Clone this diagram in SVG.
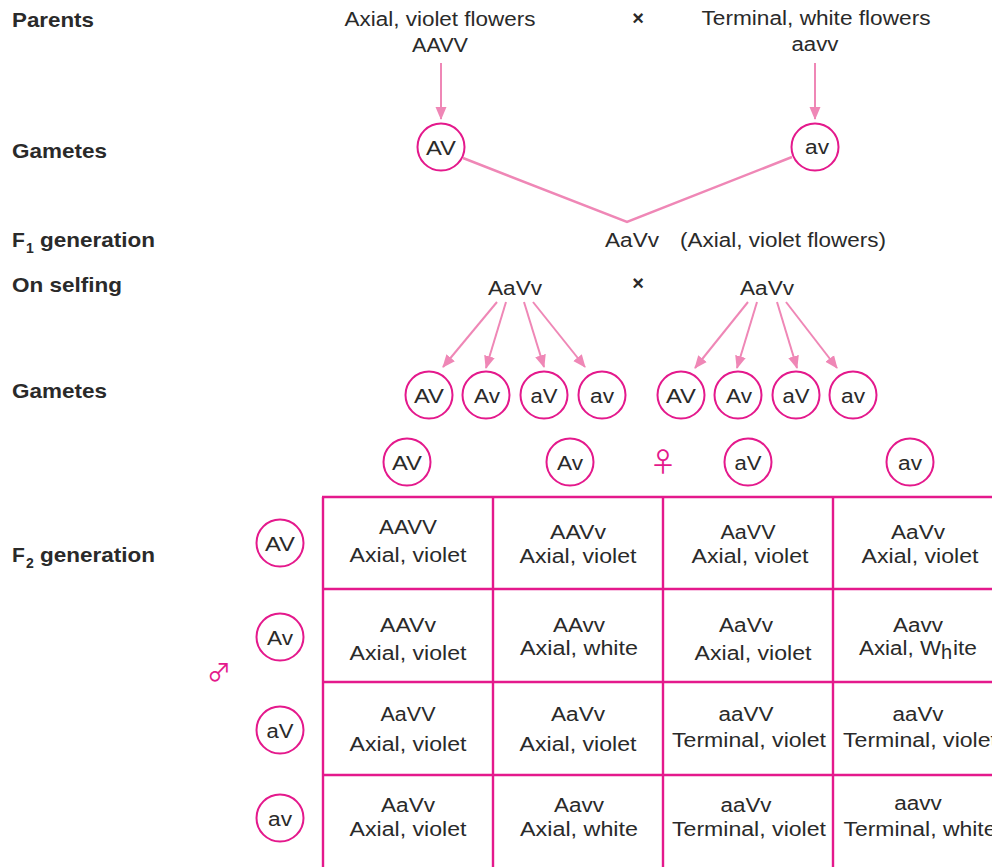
<svg xmlns="http://www.w3.org/2000/svg" width="992" height="867" viewBox="0 0 992 867">
  <style>
    .t { font-family: "Liberation Sans", Arial, sans-serif; font-size: 20px; fill: #2a2a2a; text-anchor: middle; }
    .s { text-anchor: start; }
    .lbl { font-family: "Liberation Sans", Arial, sans-serif; font-size: 21px; font-weight: bold; fill: #2a2a2a; }
    .sub { font-family: "Liberation Sans", Arial, sans-serif; font-size: 14px; font-weight: bold; fill: #2a2a2a; }
    .cross { font-family: "Liberation Sans", Arial, sans-serif; font-size: 20px; font-weight: bold; fill: #2a2a2a; text-anchor: middle; }
    .ring { fill: #ffffff; stroke: #e4198c; stroke-width: 2; }
    .sym { font-family: "Noto Sans CJK JP", "DejaVu Sans", sans-serif; fill: #e4198c; text-anchor: middle; }
    .grid line { stroke: #e4198c; stroke-width: 2.4; }
    .arrow { fill: none; stroke: #ef87b6; stroke-width: 2; marker-end: url(#ah); }
    .link { fill: none; stroke: #ef87b6; stroke-width: 2.5; stroke-linejoin: miter; }
  </style>
  <defs>
    <marker id="ah" viewBox="0 0 13 12" refX="12" refY="6" markerWidth="13" markerHeight="12" markerUnits="userSpaceOnUse" orient="auto">
      <path d="M0,0.5 L13,6 L0,11.5 z" fill="#ef87b6"/>
    </marker>
  </defs>

  <rect width="992" height="867" fill="#ffffff"/>

  <!-- row labels -->
  <g id="row-labels">
    <text class="lbl" x="12" y="27" textLength="82" lengthAdjust="spacingAndGlyphs">Parents</text>
    <text class="lbl" x="12" y="158" textLength="95" lengthAdjust="spacingAndGlyphs">Gametes</text>
    <text class="lbl" x="12" y="247">F</text>
    <text class="sub" x="26" y="253">1</text>
    <text class="lbl" x="40" y="247" textLength="115" lengthAdjust="spacingAndGlyphs">generation</text>
    <text class="lbl" x="12" y="292" textLength="110" lengthAdjust="spacingAndGlyphs">On selfing</text>
    <text class="lbl" x="12" y="398" textLength="95" lengthAdjust="spacingAndGlyphs">Gametes</text>
    <text class="lbl" x="12" y="562">F</text>
    <text class="sub" x="26" y="568">2</text>
    <text class="lbl" x="40" y="562" textLength="115" lengthAdjust="spacingAndGlyphs">generation</text>
  </g>

  <!-- connectors -->
  <g id="connectors">
    <line class="arrow" x1="441" y1="63" x2="441" y2="119"/>
    <line class="arrow" x1="815" y1="63" x2="815" y2="119"/>
    <polyline class="link" points="463,158 627,222 792,157"/>
    <line class="arrow" x1="497" y1="302" x2="443" y2="367"/>
    <line class="arrow" x1="506" y1="302" x2="486" y2="368"/>
    <line class="arrow" x1="524" y1="302" x2="544" y2="367"/>
    <line class="arrow" x1="533" y1="302" x2="585" y2="367"/>
    <line class="arrow" x1="748" y1="302" x2="695" y2="368"/>
    <line class="arrow" x1="757" y1="302" x2="737" y2="368"/>
    <line class="arrow" x1="777" y1="302" x2="797" y2="368"/>
    <line class="arrow" x1="786" y1="302" x2="837" y2="368"/>
  </g>

  <!-- parents -->
  <g id="parent-axial">
    <text class="t" x="440" y="26" textLength="191" lengthAdjust="spacingAndGlyphs">Axial, violet flowers</text>
    <text class="t" x="440" y="52" textLength="56" lengthAdjust="spacingAndGlyphs">AAVV</text>
  </g>
  <text class="cross" x="638" y="25">×</text>
  <g id="parent-terminal">
    <text class="t" x="816" y="25" textLength="229" lengthAdjust="spacingAndGlyphs">Terminal, white flowers</text>
    <text class="t" x="815" y="51" textLength="47" lengthAdjust="spacingAndGlyphs">aavv</text>
  </g>

  <!-- parental gametes -->
  <g id="gamete-AV">
    <circle class="ring" cx="441" cy="147" r="23.5"/>
    <text class="t" x="441" y="155" textLength="30" lengthAdjust="spacingAndGlyphs">AV</text>
  </g>
  <g id="gamete-av">
    <circle class="ring" cx="815" cy="147" r="23.5"/>
    <text class="t" x="817" y="154" textLength="24" lengthAdjust="spacingAndGlyphs">av</text>
  </g>

  <!-- F1 -->
  <g id="f1">
    <text class="t" x="632" y="247" textLength="54" lengthAdjust="spacingAndGlyphs">AaVv</text>
    <text class="t" x="783" y="247" textLength="206" lengthAdjust="spacingAndGlyphs">(Axial, violet flowers)</text>
  </g>

  <!-- selfing -->
  <g id="self-left">
    <text class="t" x="515" y="295" textLength="54" lengthAdjust="spacingAndGlyphs">AaVv</text>
  </g>
  <text class="cross" x="638" y="290">×</text>
  <g id="self-right">
    <text class="t" x="767" y="295" textLength="54" lengthAdjust="spacingAndGlyphs">AaVv</text>
  </g>

  <!-- F1 gametes -->
  <g id="f1-gametes-left">
    <g id="gl-AV"><circle class="ring" cx="429" cy="395" r="23.5"/><text class="t" x="429" y="402.5" textLength="30" lengthAdjust="spacingAndGlyphs">AV</text></g>
    <g id="gl-Av"><circle class="ring" cx="486" cy="395" r="23.5"/><text class="t" x="487" y="402.5" textLength="26" lengthAdjust="spacingAndGlyphs">Av</text></g>
    <g id="gl-aV"><circle class="ring" cx="544" cy="395" r="23.5"/><text class="t" x="544" y="402.5" textLength="27" lengthAdjust="spacingAndGlyphs">aV</text></g>
    <g id="gl-av"><circle class="ring" cx="602" cy="395" r="23.5"/><text class="t" x="602" y="402.5" textLength="24" lengthAdjust="spacingAndGlyphs">av</text></g>
  </g>
  <g id="f1-gametes-right">
    <g id="gr-AV"><circle class="ring" cx="681" cy="395" r="23.5"/><text class="t" x="681" y="402.5" textLength="30" lengthAdjust="spacingAndGlyphs">AV</text></g>
    <g id="gr-Av"><circle class="ring" cx="738" cy="395" r="23.5"/><text class="t" x="739" y="402.5" textLength="26" lengthAdjust="spacingAndGlyphs">Av</text></g>
    <g id="gr-aV"><circle class="ring" cx="796" cy="395" r="23.5"/><text class="t" x="796" y="402.5" textLength="27" lengthAdjust="spacingAndGlyphs">aV</text></g>
    <g id="gr-av"><circle class="ring" cx="853" cy="395" r="23.5"/><text class="t" x="853" y="402.5" textLength="24" lengthAdjust="spacingAndGlyphs">av</text></g>
  </g>

  <!-- female gametes (columns) -->
  <g id="female-gametes">
    <g id="fc-AV"><circle class="ring" cx="407" cy="462" r="23.5"/><text class="t" x="407" y="469.5" textLength="30" lengthAdjust="spacingAndGlyphs">AV</text></g>
    <g id="fc-Av"><circle class="ring" cx="570" cy="462" r="23.5"/><text class="t" x="570" y="469.5" textLength="26" lengthAdjust="spacingAndGlyphs">Av</text></g>
    <text class="sym" x="663" y="472" font-size="27">♀</text>
    <g id="fc-aV"><circle class="ring" cx="748" cy="462" r="23.5"/><text class="t" x="748" y="469.5" textLength="27" lengthAdjust="spacingAndGlyphs">aV</text></g>
    <g id="fc-av"><circle class="ring" cx="910" cy="462" r="23.5"/><text class="t" x="910" y="469.5" textLength="24" lengthAdjust="spacingAndGlyphs">av</text></g>
  </g>

  <!-- male gametes (rows) -->
  <g id="male-gametes">
    <g id="mr-AV"><circle class="ring" cx="280" cy="543" r="23.5"/><text class="t" x="280" y="550.5" textLength="30" lengthAdjust="spacingAndGlyphs">AV</text></g>
    <g id="mr-Av"><circle class="ring" cx="280" cy="637" r="23.5"/><text class="t" x="280" y="644.5" textLength="26" lengthAdjust="spacingAndGlyphs">Av</text></g>
    <text class="sym" x="219" y="681" font-size="24">♂</text>
    <g id="mr-aV"><circle class="ring" cx="280" cy="730" r="23.5"/><text class="t" x="280" y="737.5" textLength="27" lengthAdjust="spacingAndGlyphs">aV</text></g>
    <g id="mr-av"><circle class="ring" cx="280" cy="818" r="23.5"/><text class="t" x="280" y="825.5" textLength="24" lengthAdjust="spacingAndGlyphs">av</text></g>
  </g>

  <!-- Punnett square grid -->
  <g id="grid" class="grid">
    <line x1="323" y1="497" x2="323" y2="870"/>
    <line x1="493" y1="497" x2="493" y2="870"/>
    <line x1="663" y1="497" x2="663" y2="870"/>
    <line x1="833" y1="497" x2="833" y2="870"/>
    <line x1="322" y1="497" x2="995" y2="497"/>
    <line x1="322" y1="589" x2="995" y2="589"/>
    <line x1="322" y1="682" x2="995" y2="682"/>
    <line x1="322" y1="775" x2="995" y2="775"/>
  </g>

  <!-- F2 offspring -->
  <g id="cells">
    <g id="c11"><text class="t" x="408" y="534" textLength="58" lengthAdjust="spacingAndGlyphs">AAVV</text><text class="t" x="408" y="562" textLength="117" lengthAdjust="spacingAndGlyphs">Axial, violet</text></g>
    <g id="c12"><text class="t" x="578" y="539" textLength="56" lengthAdjust="spacingAndGlyphs">AAVv</text><text class="t" x="578" y="563" textLength="117" lengthAdjust="spacingAndGlyphs">Axial, violet</text></g>
    <g id="c13"><text class="t" x="748" y="539" textLength="55" lengthAdjust="spacingAndGlyphs">AaVV</text><text class="t" x="750" y="563" textLength="117" lengthAdjust="spacingAndGlyphs">Axial, violet</text></g>
    <g id="c14"><text class="t" x="918" y="539" textLength="54" lengthAdjust="spacingAndGlyphs">AaVv</text><text class="t" x="920" y="563" textLength="117" lengthAdjust="spacingAndGlyphs">Axial, violet</text></g>

    <g id="c21"><text class="t" x="408" y="632" textLength="56" lengthAdjust="spacingAndGlyphs">AAVv</text><text class="t" x="408" y="660" textLength="117" lengthAdjust="spacingAndGlyphs">Axial, violet</text></g>
    <g id="c22"><text class="t" x="579" y="632" textLength="52" lengthAdjust="spacingAndGlyphs">AAvv</text><text class="t" x="579" y="655" textLength="118" lengthAdjust="spacingAndGlyphs">Axial, white</text></g>
    <g id="c23"><text class="t" x="746" y="632" textLength="54" lengthAdjust="spacingAndGlyphs">AaVv</text><text class="t" x="753" y="660" textLength="117" lengthAdjust="spacingAndGlyphs">Axial, violet</text></g>
    <g id="c24"><text class="t" x="918" y="632" textLength="50" lengthAdjust="spacingAndGlyphs">Aavv</text><text class="t s" x="859" y="655" textLength="82" lengthAdjust="spacingAndGlyphs">Axial, W</text><text class="t s" x="941" y="659">h</text><text class="t s" x="953" y="655" textLength="24" lengthAdjust="spacingAndGlyphs">ite</text></g>

    <g id="c31"><text class="t" x="408" y="721" textLength="55" lengthAdjust="spacingAndGlyphs">AaVV</text><text class="t" x="408" y="751" textLength="117" lengthAdjust="spacingAndGlyphs">Axial, violet</text></g>
    <g id="c32"><text class="t" x="578" y="721" textLength="54" lengthAdjust="spacingAndGlyphs">AaVv</text><text class="t" x="578" y="751" textLength="117" lengthAdjust="spacingAndGlyphs">Axial, violet</text></g>
    <g id="c33"><text class="t" x="746" y="721" textLength="55" lengthAdjust="spacingAndGlyphs">aaVV</text><text class="t" x="749" y="747" textLength="154" lengthAdjust="spacingAndGlyphs">Terminal, violet</text></g>
    <g id="c34"><text class="t" x="918" y="721" textLength="51" lengthAdjust="spacingAndGlyphs">aaVv</text><text class="t" x="920" y="747" textLength="154" lengthAdjust="spacingAndGlyphs">Terminal, violet</text></g>

    <g id="c41"><text class="t" x="408" y="812" textLength="54" lengthAdjust="spacingAndGlyphs">AaVv</text><text class="t" x="408" y="836" textLength="117" lengthAdjust="spacingAndGlyphs">Axial, violet</text></g>
    <g id="c42"><text class="t" x="579" y="812" textLength="50" lengthAdjust="spacingAndGlyphs">Aavv</text><text class="t" x="579" y="836" textLength="118" lengthAdjust="spacingAndGlyphs">Axial, white</text></g>
    <g id="c43"><text class="t" x="746" y="812" textLength="51" lengthAdjust="spacingAndGlyphs">aaVv</text><text class="t" x="749" y="836" textLength="154" lengthAdjust="spacingAndGlyphs">Terminal, violet</text></g>
    <g id="c44"><text class="t" x="918" y="810" textLength="47.5" lengthAdjust="spacingAndGlyphs">aavv</text><text class="t" x="920" y="836" textLength="153" lengthAdjust="spacingAndGlyphs">Terminal, white</text></g>
  </g>
</svg>
